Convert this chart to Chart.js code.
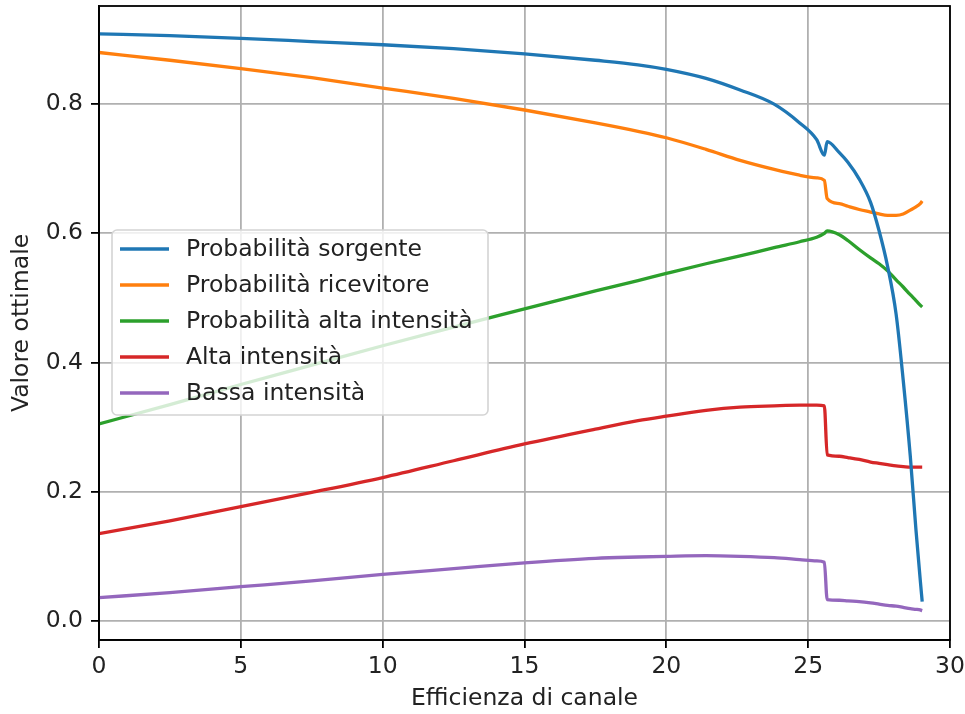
<!DOCTYPE html>
<html lang="it">
<head>
<meta charset="UTF-8">
<title>Valore ottimale vs efficienza di canale</title>
<script src="https://cdn.jsdelivr.net/npm/chart.js"></script>
<style>
    body { margin: 0; background: #fff; }
    #wrap { width: 965px; height: 714px; }
</style>
</head>
<body>
<div id="wrap"><canvas id="chart" width="965" height="714"></canvas></div>
<script>
// dati
const efficienza = [0, 2.5, 5, 7.5, 10, 12.5, 15, 17.5, 19, 20, 21.4, 22.6, 23.8, 24.7, 25.3, 25.57,
    25.67, 26.1, 26.4, 26.8, 27.2, 27.5, 27.8, 28.1, 28.35, 28.6, 28.8, 28.95, 29.02];

const probSorgente = [0.909, 0.906, 0.902, 0.897, 0.892, 0.886, 0.878, 0.868, 0.861, 0.854, 0.840, 0.822, 0.800, 0.771, 0.745, 0.721,
    0.742, 0.725, 0.710, 0.684, 0.648, 0.604, 0.549, 0.475, 0.373, 0.255, 0.141, 0.064, 0.030];
const probRicevitore = [0.880, 0.868, 0.855, 0.841, 0.825, 0.809, 0.791, 0.771, 0.758, 0.748, 0.730, 0.713, 0.699, 0.690, 0.686, 0.682,
    0.654, 0.646, 0.642, 0.637, 0.633, 0.630, 0.628, 0.628, 0.630, 0.636, 0.641, 0.646, 0.650];
const probAlta = [0.305, 0.335, 0.366, 0.396, 0.426, 0.455, 0.483, 0.511, 0.527, 0.538, 0.553, 0.565, 0.578, 0.587, 0.594, 0.600,
    0.604, 0.598, 0.589, 0.575, 0.562, 0.553, 0.542, 0.528, 0.517, 0.505, 0.496, 0.489, 0.486];
const altaIntensita = [0.135, 0.155, 0.177, 0.199, 0.222, 0.248, 0.274, 0.297, 0.310, 0.317, 0.326, 0.331, 0.333, 0.334, 0.334, 0.333,
    0.257, 0.255, 0.253, 0.250, 0.246, 0.244, 0.242, 0.240, 0.239, 0.238, 0.238, 0.238, 0.238];
const bassaIntensita = [0.036, 0.044, 0.053, 0.062, 0.072, 0.081, 0.090, 0.097, 0.099, 0.100, 0.101, 0.100, 0.098, 0.095, 0.093, 0.091,
    0.033, 0.032, 0.031, 0.030, 0.028, 0.026, 0.024, 0.023, 0.021, 0.019, 0.018, 0.017, 0.016];

const etichette = ['Probabilità sorgente', 'Probabilità ricevitore', 'Probabilità alta intensità', 'Alta intensità', 'Bassa intensità'];
const serie = [probSorgente, probRicevitore, probAlta, altaIntensita, bassaIntensita];
const colori = ['#1f77b4', '#ff7f0e', '#2ca02c', '#d62728', '#9467bd'];

const FONT = '"DejaVu Sans", sans-serif';
const FSIZE = 23.5;

// bordo superiore/destro del riquadro
const boxPlugin = {
    id: 'box',
    afterDraw(chart) {
        const a = chart.chartArea, ctx = chart.ctx;
        ctx.save();
        ctx.strokeStyle = '#000';
        ctx.lineWidth = 1.8;
        ctx.strokeRect(a.left, a.top, a.right - a.left, a.bottom - a.top);
        ctx.restore();
    }
};

// legenda dentro il grafico, stile matplotlib
const legendPlugin = {
    id: 'legendaInterna',
    afterDatasetsDraw(chart) {
        const a = chart.chartArea, ctx = chart.ctx;
        const x0 = a.left + 13, y0 = 230, w = 376, h = 185;
        ctx.save();
        ctx.beginPath();
        ctx.roundRect(x0, y0, w, h, 5);
        ctx.fillStyle = 'rgba(255,255,255,0.8)';
        ctx.fill();
        ctx.strokeStyle = '#d4d4d4';
        ctx.lineWidth = 1.6;
        ctx.stroke();
        ctx.font = FSIZE + 'px ' + FONT;
        ctx.textBaseline = 'middle';
        chart.data.datasets.forEach((ds, i) => {
            const y = y0 + 19 + i * 36;
            ctx.beginPath();
            ctx.moveTo(x0 + 8, y);
            ctx.lineTo(x0 + 57, y);
            ctx.strokeStyle = ds.borderColor;
            ctx.lineWidth = 3.3;
            ctx.stroke();
            ctx.fillStyle = '#222';
            ctx.fillText(ds.label, x0 + 74, y + 1);
        });
        ctx.restore();
    }
};

new Chart(document.getElementById('chart'), {
    type: 'line',
    data: {
        datasets: serie.map((s, i) => ({
            label: etichette[i],
            data: efficienza.map((x, j) => ({ x: x, y: s[j] })),
            borderColor: colori[i],
            backgroundColor: colori[i],
            borderWidth: 3.3,
            pointRadius: 0,
            cubicInterpolationMode: 'monotone',
            fill: false
        }))
    },
    options: {
        responsive: false,
        animation: false,
        layout: { padding: { top: 6, right: 15, left: 0, bottom: 0 } },
        plugins: { legend: { display: false }, tooltip: { enabled: false } },
        scales: {
            x: {
                type: 'linear',
                min: 0,
                max: 30,
                afterFit(s) { s.height = 74; s.paddingLeft = 0; s.paddingRight = 0; },
                ticks: { stepSize: 5, color: '#222', padding: 5, font: { family: FONT, size: FSIZE } },
                grid: { color: '#b0b0b0', lineWidth: 1.8, tickColor: '#000', tickLength: 8 },
                border: { color: '#000', width: 1.8 },
                title: { display: true, text: 'Efficienza di canale', color: '#222', font: { family: FONT, size: FSIZE }, padding: { top: 0, bottom: 1 } }
            },
            y: {
                type: 'linear',
                min: -0.0295,
                max: 0.952,
                afterFit(s) { s.width = 99; s.paddingTop = 0; s.paddingBottom = 0; },
                ticks: {
                    stepSize: 0.2,
                    includeBounds: false,
                    color: '#222',
                    padding: 8,
                    font: { family: FONT, size: FSIZE },
                    callback: v => v.toFixed(1)
                },
                grid: { color: '#b0b0b0', lineWidth: 1.8, tickColor: '#000', tickLength: 8 },
                border: { color: '#000', width: 1.8 },
                title: { display: true, text: 'Valore ottimale', color: '#222', font: { family: FONT, size: FSIZE }, padding: { top: 8, bottom: 0 } }
            }
        }
    },
    plugins: [boxPlugin, legendPlugin]
});
</script>
</body>
</html>
